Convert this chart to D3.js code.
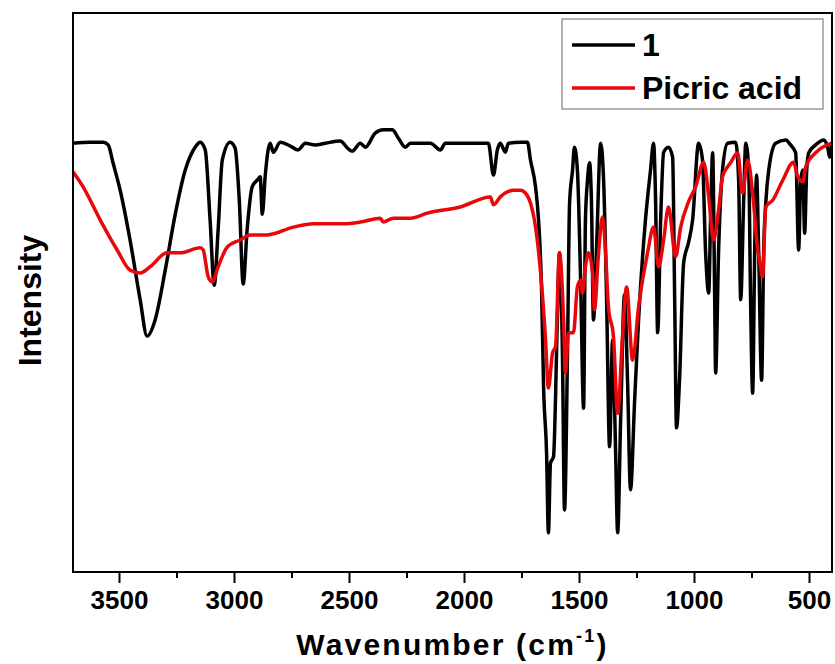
<!DOCTYPE html>
<html>
<head>
<meta charset="utf-8">
<script src="https://cdn.jsdelivr.net/npm/d3@7"></script>
<style>
  body { margin: 0; background: #fff; }
  text { font-family: "Liberation Sans", Arial, sans-serif; font-weight: bold; }
</style>
</head>
<body>
<div class="chart"></div>
<script>
// series "1" (black) : wavenumber, intensity (arb.)
const wn1 = [3700,3626,3569,3547,3526,3495,3452,3408,3378,3343,3299,3256,3212,3169,3147,3125,3104,3086,3069,3051,3017,2995,2977,2960,2943,2921,2899,2886,2877,2864,2843,
  2829,2799,2755,2721,2690,2647,2603,2538,2503,2486,2451,2429,2386,2351,2312,2285,2255,2233,2146,2103,2081,1972,1894,1872,1855,1842,1820,1807,1755,1724,1711,1689,1676,1663,1654,1641,1633,
  1624,1611,1594,1585,1572,1563,1550,1541,1528,1520,1507,1493,1480,1472,1463,1454,1446,1437,1424,1406,1393,1380,1367,1354,1341,1332,1319,1302,1289,1276,1258,1241,1211,1189,1176,
  1167,1158,1145,1132,1111,1093,1084,1076,1063,1045,1024,1006,980,963,950,936,928,919,910,906,893,876,854,819,806,797,784,775,762,754,745,736,728,719,706,697,688,675,645,601,580,558,545,536,527,519,510,501,471,436,419,410,401];
const int1 = [76.7,76.9,76.9,76.4,73.2,68.3,59.4,48.7,42.2,45.1,54.0,63.9,71.9,76.0,76.9,75.5,63.0,51.3,61.2,73.7,76.9,75.8,66.5,51.5,61.2,68.9,70.1,70.7,64.0,71.0,76.7,
  75.1,76.9,76.2,75.5,76.7,76.4,76.7,77.1,75.7,75.3,76.7,76.0,78.5,79.1,79.1,77.6,76.0,76.7,76.7,75.5,76.7,76.7,76.7,71.0,75.5,76.7,75.1,76.7,76.9,76.9,73.7,68.9,63.0,51.0,33.1,21.3,7.0,
  19.5,20.6,45.1,57.1,39.2,11.1,39.2,66.0,71.9,76.0,71.9,52.2,29.3,63.0,70.1,73.2,66.5,45.1,57.6,76.7,70.1,48.7,22.4,41.5,21.8,7.0,27.2,49.6,34.3,14.7,30.8,45.1,63.0,71.9,76.7,
  66.5,42.8,63.0,75.1,76.0,74.2,48.7,25.8,34.3,55.3,58.9,63.0,76.7,73.7,57.6,49.9,63.0,75.0,48.7,35.6,57.6,71.9,76.7,76.9,70.1,48.7,66.5,76.7,71.9,48.7,32.0,57.6,71.0,57.6,34.3,57.6,66.0,71.9,76.7,77.3,76.4,75.0,57.6,70.1,71.9,60.6,71.9,75.0,76.4,77.3,76.0,74.2,76.7];

// series "Picric acid" (red)
const wn2 = [3700,3656,3582,3508,3452,3408,3365,3291,3234,3147,3134,3112,3095,3069,3030,2973,2930,2856,2742,2655,2525,2451,2364,2351,2307,2233,2159,2016,1885,1872,1842,1785,1755,1733,1711,1689,1668,1646,1633,
  1615,1602,1585,1567,1559,1546,1524,1507,1493,1485,1472,1459,1441,1433,1415,1398,1385,1372,1350,1332,1311,1293,1267,1241,1202,1176,1154,1132,1111,1080,1058,1024,993,958,936,915,893,876,841,810,789,767,741,723,715,702,688,658,614,567,549,527,514,471,400];
const int2 = [71.6,68.9,63.0,57.6,54.0,53.5,54.6,57.1,57.1,58.0,57.6,52.8,51.9,54.6,58.1,59.4,60.3,60.3,61.7,62.3,62.3,62.6,63.3,62.6,63.3,63.3,64.2,65.3,67.1,65.7,67.1,68.3,68.3,67.8,66.0,61.7,54.0,42.0,32.9,
  39.2,40.3,57.1,45.1,35.6,42.8,42.8,51.0,52.2,49.9,54.6,57.1,53.5,46.9,57.1,63.5,57.6,47.4,42.0,28.4,42.0,51.0,37.9,47.4,57.1,61.7,54.6,59.4,65.3,56.4,61.7,66.2,68.9,73.3,67.1,59.4,64.8,70.7,73.2,75.0,67.8,73.7,66.0,57.6,55.8,52.8,65.3,66.5,70.1,73.3,70.7,69.8,72.5,75.0,76.7];

const seriesNames = ["1", "Picric acid"];
const seriesColors = ["#000000", "#e8080c"];
const majorTicks = [3500, 3000, 2500, 2000, 1500, 1000, 500];
const minorTicks = [3250, 2750, 2250, 1750, 1250, 750];

const W = 835, H = 664;
const margin = { top: 13, right: 3, bottom: 92, left: 73 };
const width = W - margin.left - margin.right;
const height = H - margin.top - margin.bottom;

const svg = d3.select(".chart")
    .append("svg")
    .attr("width", W)
    .attr("height", H);

const g = svg.append("g")
    .attr("transform", "translate(" + margin.left + "," + margin.top + ")");

const x = d3.scaleLinear().domain([3700, 400]).range([0, width]);
const y = d3.scaleLinear().domain([0, 100]).range([height, 0]);

g.append("clipPath").attr("id", "clip")
  .append("rect").attr("width", width).attr("height", height);

const line = d3.line()
    .x(d => x(d[0]))
    .y(d => y(d[1]))
    .curve(d3.curveMonotoneX);

const data1 = wn1.map((w, i) => [w, int1[i]]);
const data2 = wn2.map((w, i) => [w, int2[i]]);

// black first, red on top
[[data1, 0], [data2, 1]].forEach(([d, i]) => {
  g.append("path")
    .datum(d)
    .attr("clip-path", "url(#clip)")
    .attr("fill", "none")
    .attr("stroke", seriesColors[i])
    .attr("stroke-width", 3.5)
    .attr("stroke-linejoin", "round")
    .attr("stroke-linecap", "round")
    .attr("d", line);
});

// x axis: major ticks with labels, minor ticks without
const xAxis = g.append("g")
    .attr("transform", "translate(0," + height + ")")
    .call(d3.axisBottom(x).tickValues(majorTicks).tickSize(11).tickPadding(8).tickFormat(d3.format("d")));
xAxis.select(".domain").remove();
xAxis.selectAll("line").attr("stroke-width", 2);
xAxis.selectAll("text").attr("font-size", 26).attr("fill", "#000")
    .style("font-family", "'Liberation Sans', Arial, sans-serif").style("font-weight", "bold");

const xMinor = g.append("g")
    .attr("transform", "translate(0," + height + ")")
    .call(d3.axisBottom(x).tickValues(minorTicks).tickSize(6).tickFormat(""));
xMinor.select(".domain").remove();
xMinor.selectAll("line").attr("stroke-width", 2);

// frame
g.append("rect")
    .attr("width", width).attr("height", height)
    .attr("fill", "none").attr("stroke", "#000").attr("stroke-width", 2);

// axis titles
const title = svg.append("text")
    .attr("x", margin.left + width / 2)
    .attr("y", 655)
    .attr("text-anchor", "middle")
    .attr("font-size", 30)
    .attr("letter-spacing", 2.2);
title.append("tspan").text("Wavenumber (cm");
title.append("tspan").attr("font-size", 18).attr("dy", -13).text("-1");
title.append("tspan").attr("dy", 13).text(")");

svg.append("text")
    .attr("transform", "translate(41," + (margin.top + height / 2 + 8) + ") rotate(-90)")
    .attr("text-anchor", "middle")
    .attr("font-size", 32)
    .text("Intensity");

// legend
const legend = svg.append("g").attr("transform", "translate(562,19)");
legend.append("rect")
    .attr("width", 261).attr("height", 90)
    .attr("fill", "#fff").attr("stroke", "#666").attr("stroke-width", 1);
seriesNames.forEach((name, i) => {
  const yy = 26 + i * 43;
  legend.append("line")
    .attr("x1", 10).attr("x2", 73).attr("y1", yy).attr("y2", yy)
    .attr("stroke", seriesColors[i]).attr("stroke-width", 3.5);
  legend.append("text")
    .attr("x", 80).attr("y", yy + 11)
    .attr("font-size", 32)
    .text(name);
});
</script>
</body>
</html>
